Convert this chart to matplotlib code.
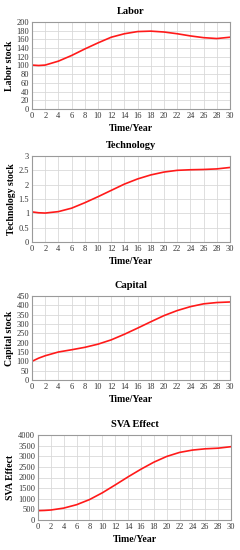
import matplotlib
matplotlib.use("Agg")
import matplotlib.pyplot as plt
import numpy as np

years = [0, 1, 2, 4, 6, 8, 10, 12, 14, 16, 18, 20, 22, 24, 26, 28, 30]
labor = [101, 100, 101, 110, 123, 138, 152, 165, 173, 178, 179, 177, 173, 168, 164, 162, 165]
tech = [1.05, 1.02, 1.01, 1.06, 1.18, 1.37, 1.58, 1.80, 2.02, 2.20, 2.34, 2.44, 2.50, 2.52, 2.53, 2.55, 2.60]
capital = [100, 117, 130, 150, 162, 175, 192, 215, 245, 278, 312, 345, 372, 393, 408, 415, 418]
sva = [440, 450, 470, 560, 720, 960, 1280, 1650, 2030, 2390, 2720, 2990, 3180, 3290, 3350, 3380, 3450]

titles = ["Labor", "Technology", "Capital", "SVA Effect"]
ylabels = ["Labor stock", "Technology stock", "Capital stock", "SVA Effect"]
series = [labor, tech, capital, sva]
yticks = [list(range(0, 201, 20)), [0, 0.5, 1, 1.5, 2, 2.5, 3],
          list(range(0, 451, 50)), list(range(0, 4001, 500))]
xticks = list(range(0, 31, 2))

plt.rcParams['font.family'] = ['Liberation Serif', 'DejaVu Serif']

W, H = 240, 550
fig = plt.figure(figsize=(W / 100, H / 100), dpi=100)

# (left, top, right, bottom) in pixels
boxes = [(32, 22, 230, 109), (32, 156, 230, 242), (32, 296, 230, 380), (38, 435, 231, 520)]

for (l, t, r, b), title, ylab, ys, yt in zip(boxes, titles, ylabels, series, yticks):
    ax = fig.add_axes([l / W, 1 - b / H, (r - l) / W, (b - t) / H])
    ax.plot(years, ys, color='#ff1a1a', lw=1.2)
    ax.set_xlim(0, 30)
    ax.set_ylim(yt[0], yt[-1])
    ax.set_xticks(xticks)
    ax.set_yticks(yt)
    ax.set_yticklabels([f"{v:g}" for v in yt])
    ax.grid(True, color='#d9d9d9', lw=0.6)
    ax.set_axisbelow(True)
    for s in ax.spines.values():
        s.set_color('#9a9a9a')
        s.set_linewidth(0.8)
    ax.tick_params(labelsize=6, length=0, pad=2, colors='#333333')
    ax.set_title(title, fontsize=7.5, fontweight='bold', pad=6)
    ax.set_xlabel("Time/Year", fontsize=7, fontweight='bold', labelpad=3)
    ax.set_ylabel(ylab, fontsize=7, fontweight='bold', labelpad=2)

fig.savefig("out.png", dpi=100)
